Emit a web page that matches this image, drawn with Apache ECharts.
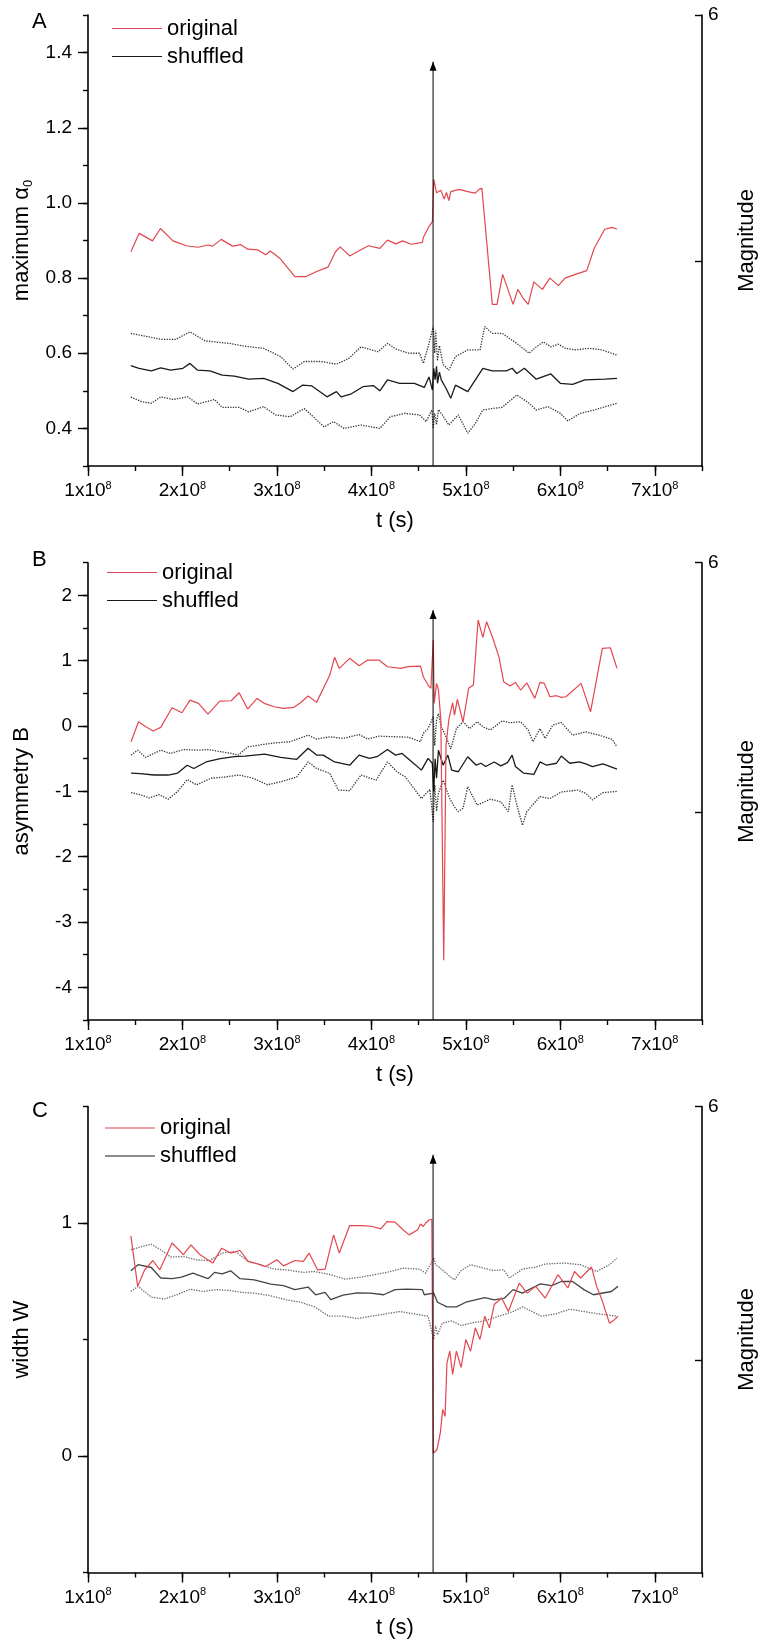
<!DOCTYPE html>
<html><head><meta charset="utf-8">
<script src="https://cdn.jsdelivr.net/npm/echarts@6/dist/echarts.min.js"></script>
<style>html,body{margin:0;padding:0;background:#fff}#c{width:766px;height:1645px}</style>
</head><body><div id="c"></div>
<script>
// ---------------- DATA (time in units of 1e8 s) ----------------
const xTickValues = [1, 2, 3, 4, 5, 6, 7];
const mainshockT = 4.653;
const mainshockMag = 5.43;

// Panel A: maximum alpha0
const A_original = [[1.454,0.870],[1.542,0.919],[1.683,0.899],[1.767,0.932],[1.90,0.899],[2.042,0.886],[2.165,0.882],[2.27,0.888],[2.32,0.885],[2.41,0.903],[2.53,0.885],[2.62,0.889],[2.69,0.877],[2.80,0.875],[2.88,0.862],[2.93,0.872],[3.03,0.853],[3.19,0.804],[3.31,0.804],[3.415,0.817],[3.54,0.829],[3.62,0.870],[3.67,0.883],[3.77,0.859],[3.865,0.872],[3.97,0.886],[4.09,0.879],[4.17,0.901],[4.26,0.891],[4.33,0.899],[4.42,0.890],[4.54,0.895],[4.55,0.908],[4.61,0.937],[4.646,0.950],[4.66,1.063],[4.69,1.027],[4.735,1.034],[4.77,1.010],[4.795,1.028],[4.82,1.006],[4.84,1.030],[4.93,1.036],[5.02,1.030],[5.10,1.026],[5.14,1.036],[5.17,1.039],[5.28,0.730],[5.33,0.730],[5.39,0.810],[5.50,0.730],[5.55,0.770],[5.61,0.745],[5.66,0.730],[5.72,0.790],[5.81,0.770],[5.89,0.800],[5.98,0.780],[6.05,0.800],[6.16,0.810],[6.28,0.820],[6.36,0.880],[6.47,0.930],[6.55,0.935],[6.60,0.930]];
const A_shuffled = [[1.453,0.567],[1.54,0.560],[1.67,0.553],[1.77,0.561],[1.876,0.555],[2.005,0.560],[2.08,0.573],[2.16,0.555],[2.29,0.553],[2.42,0.542],[2.55,0.539],[2.70,0.531],[2.86,0.533],[3.01,0.520],[3.17,0.498],[3.27,0.515],[3.37,0.513],[3.53,0.484],[3.63,0.498],[3.68,0.484],[3.78,0.491],[3.91,0.511],[4.02,0.514],[4.09,0.500],[4.17,0.529],[4.30,0.520],[4.455,0.520],[4.56,0.509],[4.61,0.537],[4.646,0.502],[4.66,0.560],[4.675,0.530],[4.69,0.565],[4.70,0.520],[4.72,0.550],[4.74,0.529],[4.79,0.507],[4.84,0.480],[4.89,0.515],[5.02,0.498],[5.18,0.560],[5.28,0.553],[5.43,0.553],[5.49,0.560],[5.54,0.546],[5.62,0.560],[5.745,0.531],[5.90,0.545],[6.00,0.520],[6.13,0.517],[6.26,0.529],[6.47,0.531],[6.60,0.533]];
const A_upper = [[1.453,0.653],[1.77,0.637],[1.93,0.637],[2.08,0.657],[2.24,0.633],[2.50,0.626],[2.65,0.619],[2.86,0.613],[3.04,0.591],[3.17,0.558],[3.29,0.578],[3.47,0.578],[3.63,0.571],[3.76,0.586],[3.89,0.617],[4.07,0.604],[4.17,0.626],[4.27,0.610],[4.40,0.600],[4.51,0.600],[4.55,0.573],[4.61,0.626],[4.655,0.671],[4.67,0.600],[4.68,0.660],[4.70,0.580],[4.72,0.620],[4.76,0.570],[4.82,0.555],[4.89,0.591],[5.02,0.609],[5.15,0.609],[5.20,0.671],[5.28,0.653],[5.385,0.653],[5.54,0.626],[5.67,0.600],[5.745,0.617],[5.82,0.630],[5.90,0.617],[5.98,0.624],[6.055,0.613],[6.16,0.609],[6.31,0.613],[6.44,0.609],[6.60,0.595]];
const A_lower = [[1.453,0.483],[1.57,0.471],[1.67,0.467],[1.77,0.484],[1.90,0.477],[2.055,0.484],[2.16,0.465],[2.34,0.477],[2.42,0.456],[2.60,0.456],[2.70,0.444],[2.86,0.458],[2.985,0.436],[3.14,0.431],[3.29,0.453],[3.50,0.404],[3.60,0.418],[3.71,0.400],[3.89,0.409],[4.09,0.400],[4.20,0.431],[4.35,0.440],[4.51,0.436],[4.58,0.418],[4.64,0.449],[4.655,0.400],[4.67,0.440],[4.69,0.410],[4.71,0.450],[4.74,0.440],[4.82,0.409],[4.92,0.436],[5.02,0.387],[5.10,0.413],[5.18,0.449],[5.28,0.453],[5.385,0.456],[5.54,0.489],[5.67,0.467],[5.745,0.449],[5.87,0.458],[6.00,0.440],[6.08,0.420],[6.21,0.440],[6.36,0.449],[6.60,0.467]];

// Panel B: asymmetry B
const B_original = [[1.456,-0.241],[1.535,0.065],[1.612,-0.011],[1.69,-0.077],[1.77,-0.021],[1.89,0.279],[1.994,0.203],[2.08,0.397],[2.17,0.347],[2.27,0.183],[2.395,0.382],[2.516,0.387],[2.60,0.509],[2.69,0.260],[2.79,0.423],[2.865,0.347],[2.97,0.295],[3.07,0.270],[3.18,0.286],[3.25,0.356],[3.33,0.459],[3.42,0.362],[3.56,0.780],[3.61,1.051],[3.66,0.883],[3.77,1.036],[3.87,0.923],[3.96,1.010],[4.08,1.010],[4.17,0.907],[4.31,0.883],[4.39,0.908],[4.52,0.918],[4.55,0.754],[4.60,0.627],[4.63,0.577],[4.655,1.316],[4.665,0.347],[4.69,0.653],[4.71,0.551],[4.735,0.100],[4.766,-3.586],[4.79,-0.300],[4.82,0.100],[4.86,0.356],[4.88,0.168],[4.91,0.408],[4.97,0.065],[5.03,0.577],[5.08,0.627],[5.13,1.623],[5.18,1.358],[5.22,1.597],[5.28,1.367],[5.35,1.061],[5.40,0.678],[5.47,0.611],[5.525,0.668],[5.58,0.551],[5.645,0.662],[5.73,0.423],[5.785,0.668],[5.83,0.653],[5.89,0.448],[5.96,0.464],[6.01,0.438],[6.06,0.448],[6.22,0.653],[6.32,0.218],[6.445,1.189],[6.53,1.198],[6.60,0.883]];
const B_shuffled = [[1.456,-0.72],[1.55,-0.73],[1.70,-0.75],[1.85,-0.75],[1.95,-0.72],[2.05,-0.60],[2.12,-0.65],[2.25,-0.55],[2.40,-0.50],[2.55,-0.47],[2.66,-0.46],[2.87,-0.43],[3.04,-0.48],[3.21,-0.51],[3.33,-0.34],[3.42,-0.445],[3.49,-0.445],[3.61,-0.55],[3.77,-0.60],[3.87,-0.445],[3.98,-0.495],[4.06,-0.47],[4.17,-0.36],[4.255,-0.445],[4.325,-0.42],[4.43,-0.55],[4.53,-0.675],[4.60,-0.495],[4.645,-0.57],[4.66,-1.00],[4.675,-0.50],[4.69,-0.80],[4.71,-0.37],[4.76,-0.60],[4.81,-0.445],[4.85,-0.675],[4.92,-0.70],[5.02,-0.47],[5.11,-0.60],[5.16,-0.57],[5.21,-0.62],[5.30,-0.55],[5.37,-0.61],[5.44,-0.56],[5.49,-0.445],[5.525,-0.62],[5.61,-0.72],[5.72,-0.74],[5.785,-0.55],[5.855,-0.60],[5.96,-0.57],[6.01,-0.46],[6.10,-0.57],[6.20,-0.55],[6.27,-0.58],[6.34,-0.62],[6.45,-0.58],[6.53,-0.62],[6.60,-0.66]];
const B_upper = [[1.456,-0.445],[1.525,-0.37],[1.61,-0.48],[1.77,-0.37],[1.87,-0.42],[2.01,-0.36],[2.17,-0.37],[2.27,-0.36],[2.52,-0.42],[2.59,-0.445],[2.69,-0.32],[2.865,-0.28],[2.97,-0.26],[3.14,-0.24],[3.33,-0.14],[3.42,-0.20],[3.56,-0.165],[3.70,-0.19],[3.87,-0.13],[3.96,-0.20],[4.08,-0.155],[4.255,-0.165],[4.39,-0.17],[4.52,-0.24],[4.55,-0.11],[4.60,-0.04],[4.655,0.14],[4.67,-0.30],[4.69,0.10],[4.71,0.19],[4.74,-0.01],[4.79,-0.165],[4.84,-0.35],[4.90,-0.04],[4.97,0.065],[5.04,-0.04],[5.12,0.065],[5.19,-0.02],[5.26,-0.06],[5.385,0.08],[5.47,0.05],[5.58,0.065],[5.66,-0.06],[5.71,-0.24],[5.785,-0.04],[5.84,-0.19],[5.92,0.015],[6.01,0.055],[6.13,-0.14],[6.27,-0.09],[6.41,-0.14],[6.55,-0.205],[6.60,-0.32]];
const B_lower = [[1.456,-1.02],[1.55,-1.05],[1.65,-1.10],[1.75,-1.05],[1.85,-1.12],[1.95,-1.00],[2.05,-0.82],[2.15,-0.90],[2.30,-0.80],[2.45,-0.78],[2.60,-0.75],[2.75,-0.80],[2.90,-0.90],[3.05,-0.85],[3.21,-0.78],[3.33,-0.55],[3.42,-0.65],[3.56,-0.725],[3.65,-0.98],[3.77,-0.99],[3.89,-0.75],[4.05,-0.83],[4.17,-0.55],[4.27,-0.70],[4.36,-0.78],[4.53,-1.11],[4.62,-0.97],[4.655,-1.47],[4.67,-0.90],[4.69,-1.30],[4.71,-1.03],[4.76,-0.83],[4.83,-1.11],[4.88,-1.24],[4.92,-1.31],[4.97,-1.26],[5.02,-0.93],[5.12,-1.21],[5.26,-1.12],[5.37,-1.16],[5.45,-1.31],[5.49,-0.90],[5.54,-1.21],[5.60,-1.52],[5.645,-1.31],[5.785,-1.08],[5.89,-1.11],[6.01,-1.01],[6.185,-0.98],[6.27,-1.03],[6.34,-1.13],[6.45,-1.02],[6.60,-1.00]];

// Panel C: width W
const C_original = [[1.454,0.945],[1.526,0.728],[1.60,0.799],[1.687,0.839],[1.76,0.799],[1.89,0.914],[2.01,0.864],[2.09,0.906],[2.18,0.866],[2.32,0.828],[2.415,0.892],[2.51,0.871],[2.61,0.882],[2.695,0.835],[2.80,0.824],[2.88,0.813],[3.00,0.842],[3.07,0.816],[3.19,0.839],[3.28,0.835],[3.34,0.871],[3.43,0.799],[3.51,0.802],[3.60,0.949],[3.66,0.871],[3.77,0.989],[3.91,0.989],[4.01,0.985],[4.10,0.975],[4.165,1.006],[4.25,1.004],[4.335,0.971],[4.40,0.949],[4.49,0.971],[4.52,0.996],[4.55,0.985],[4.575,1.000],[4.61,1.013],[4.64,1.016],[4.655,0.012],[4.695,0.028],[4.73,0.100],[4.755,0.200],[4.78,0.170],[4.80,0.400],[4.83,0.450],[4.86,0.350],[4.90,0.450],[4.95,0.380],[5.00,0.500],[5.05,0.450],[5.10,0.550],[5.15,0.500],[5.20,0.600],[5.25,0.550],[5.30,0.650],[5.38,0.678],[5.45,0.620],[5.565,0.742],[5.65,0.699],[5.74,0.728],[5.84,0.678],[5.975,0.778],[6.08,0.721],[6.15,0.792],[6.215,0.764],[6.33,0.811],[6.385,0.728],[6.44,0.671],[6.52,0.570],[6.56,0.580],[6.61,0.600]];
const C_shuffled = [[1.454,0.795],[1.53,0.821],[1.67,0.809],[1.77,0.764],[1.89,0.761],[1.99,0.768],[2.11,0.785],[2.27,0.761],[2.34,0.788],[2.42,0.782],[2.51,0.795],[2.61,0.761],[2.76,0.756],[2.935,0.738],[3.07,0.731],[3.19,0.714],[3.33,0.725],[3.41,0.692],[3.51,0.702],[3.57,0.671],[3.70,0.690],[3.85,0.700],[3.99,0.699],[4.13,0.692],[4.25,0.714],[4.37,0.716],[4.54,0.714],[4.56,0.692],[4.66,0.699],[4.70,0.660],[4.80,0.640],[4.90,0.640],[5.00,0.660],[5.10,0.670],[5.20,0.680],[5.30,0.670],[5.41,0.678],[5.50,0.714],[5.60,0.699],[5.70,0.721],[5.79,0.739],[5.91,0.731],[6.01,0.749],[6.13,0.749],[6.25,0.714],[6.35,0.692],[6.54,0.706],[6.61,0.728]];
const C_upper = [[1.454,0.885],[1.57,0.899],[1.67,0.909],[1.77,0.885],[1.875,0.854],[2.01,0.856],[2.15,0.842],[2.285,0.838],[2.42,0.871],[2.56,0.878],[2.695,0.835],[2.83,0.821],[2.97,0.802],[3.10,0.799],[3.28,0.788],[3.40,0.792],[3.55,0.780],[3.72,0.759],[3.86,0.766],[4.03,0.778],[4.165,0.788],[4.335,0.806],[4.51,0.802],[4.575,0.785],[4.66,0.850],[4.68,0.821],[4.73,0.806],[4.83,0.771],[4.88,0.756],[4.95,0.796],[5.05,0.821],[5.19,0.806],[5.29,0.796],[5.40,0.799],[5.46,0.764],[5.60,0.802],[5.74,0.811],[5.84,0.824],[6.04,0.828],[6.215,0.821],[6.385,0.792],[6.52,0.821],[6.60,0.849]];
const C_lower = [[1.454,0.706],[1.53,0.728],[1.67,0.682],[1.81,0.674],[1.94,0.692],[2.08,0.716],[2.22,0.706],[2.35,0.714],[2.49,0.711],[2.63,0.702],[2.76,0.699],[2.93,0.688],[3.10,0.670],[3.25,0.660],[3.40,0.640],[3.55,0.600],[3.70,0.600],[3.85,0.590],[4.00,0.600],[4.15,0.610],[4.30,0.620],[4.45,0.610],[4.60,0.600],[4.66,0.500],[4.68,0.560],[4.70,0.520],[4.75,0.570],[4.85,0.580],[4.95,0.560],[5.05,0.570],[5.20,0.580],[5.35,0.600],[5.50,0.620],[5.60,0.640],[5.70,0.620],[5.80,0.600],[5.95,0.610],[6.10,0.630],[6.25,0.620],[6.40,0.610],[6.60,0.600]];

// ---------------- LAYOUT ----------------
const FONT = '"Liberation Sans", Arial, sans-serif';
const LEG_ICON = 'path://M0,0H50V1H0Z';
const panels = [
  {letter:'A', top:15, height:451, right:62.5, ymin:0.3, ymax:1.5, ystep:0.1, ymajor:[0.4,0.6,0.8,1.0,1.2,1.4],
   fmt:v=>{const r=Math.round(v*10); return r%2===0 ? (r/10).toFixed(1) : '';},
   yname:'{a|maximum α}{s|0}', legendLeft:107, legendTop:12, letterTop:11,
   data:[A_lower, A_upper, A_shuffled, A_original], solid:'#1a1a1a', dot:'#333'},
  {letter:'B', top:562.7, height:457.3, right:55, ymin:-4.5, ymax:2.5, ystep:0.5, ymajor:[-4,-3,-2,-1,0,1,2],
   fmt:v=>{const r=Math.round(v*2); return r%2===0 ? String(r/2) : '';},
   yname:'{a|asymmetry B}', legendLeft:102, legendTop:556, letterTop:549,
   data:[B_lower, B_upper, B_shuffled, B_original], solid:'#1a1a1a', dot:'#333'},
  {letter:'C', top:1106.5, height:466, right:44, ymin:-0.5, ymax:1.5, ystep:0.5, ymajor:[0,1],
   fmt:v=>{const r=Math.round(v*2); return r%2===0 ? String(r/2) : '';},
   yname:'{a|width W}', legendLeft:100, legendTop:1111.5, letterTop:1100,
   data:[C_lower, C_upper, C_shuffled, C_original], solid:'#444', dot:'#666'}
];

const axisLineStyle = {color:'#000', width:1.6};
const grid = [], xAxis = [], yAxis = [], series = [], legend = [], graphic = [];

panels.forEach((p, i) => {
  grid.push({left:88, right:p.right, top:p.top, height:p.height, containLabel:false});
  // main x axis (minor ticks every 0.5)
  xAxis.push({gridIndex:i, type:'value', position:'bottom', min:1, max:7.5, interval:0.5,
    axisLine:{show:true, onZero:false, lineStyle:axisLineStyle},
    axisTick:{show:true, length:5, lineStyle:{color:'#000', width:1.4}},
    splitLine:{show:false},
    axisLabel:{margin:14, color:'#000', fontFamily:FONT, fontSize:19,
      formatter:v=>{const r=Math.round(v*2); return r%2===0 ? '{b|'+(r/2)+'x10}{s|8}' : '';},
      rich:{b:{fontSize:19, fontFamily:FONT, color:'#000', lineHeight:22}, s:{fontSize:11, fontFamily:FONT, color:'#000', verticalAlign:'top', lineHeight:22}}},
    name:'t (s)', nameLocation:'middle', nameGap:44,
    nameTextStyle:{fontSize:22, fontFamily:FONT, color:'#000'}});
  // major x ticks
  xAxis.push({gridIndex:i, type:'value', position:'bottom', min:1, max:7.5, interval:1,
    axisLine:{show:false, onZero:false}, axisLabel:{show:false}, splitLine:{show:false},
    axisTick:{show:true, length:10, customValues:xTickValues, lineStyle:{color:'#000', width:1.4}}});
  // main left y axis
  yAxis.push({gridIndex:i, type:'value', position:'left', min:p.ymin, max:p.ymax, interval:p.ystep,
    axisLine:{show:true, onZero:false, lineStyle:axisLineStyle},
    axisTick:{show:true, length:5, lineStyle:{color:'#000', width:1.4}},
    splitLine:{show:false},
    axisLabel:{margin:16, color:'#000', fontFamily:FONT, fontSize:19, formatter:p.fmt, showMinLabel:true, showMaxLabel:true},
    name:p.yname, nameLocation:'middle', nameGap:53, nameRotate:90,
    nameTextStyle:{fontSize:22, fontFamily:FONT, color:'#000',
      rich:{a:{fontSize:22, fontFamily:FONT, color:'#000', lineHeight:26}, s:{fontSize:13, fontFamily:FONT, color:'#000', verticalAlign:'bottom', lineHeight:26}}}});
  // major left y ticks
  yAxis.push({gridIndex:i, type:'value', position:'left', min:p.ymin, max:p.ymax,
    axisLine:{show:false, onZero:false}, axisLabel:{show:false}, splitLine:{show:false},
    axisTick:{show:true, length:10, customValues:p.ymajor, lineStyle:{color:'#000', width:1.4}}});
  // magnitude axis (right)
  yAxis.push({gridIndex:i, type:'value', position:'right', min:0.5, max:6,
    axisLine:{show:true, onZero:false, lineStyle:axisLineStyle},
    axisTick:{show:true, inside:true, length:7, customValues:[3,6], lineStyle:{color:'#000', width:1.4}},
    splitLine:{show:false},
    axisLabel:{margin:6, color:'#000', fontFamily:FONT, fontSize:19, customValues:[6], formatter:v=>(Math.abs(v-6)<1e-6?'6':'')},
    name:'Magnitude', nameLocation:'middle', nameGap:34, nameRotate:90,
    nameTextStyle:{fontSize:22, fontFamily:FONT, color:'#000'}});

  const xi = 2*i, yi = 3*i;
  const [lo, up, sh, orig] = p.data;
  const dotStyle = {color:p.dot, width:1.3, type:'dotted'};
  series.push({name:'lower', type:'line', xAxisIndex:xi, yAxisIndex:yi, data:lo, symbol:'none', lineStyle:dotStyle, silent:true, z:2});
  series.push({name:'upper', type:'line', xAxisIndex:xi, yAxisIndex:yi, data:up, symbol:'none', lineStyle:dotStyle, silent:true, z:2});
  series.push({name:'shuffled', type:'line', xAxisIndex:xi, yAxisIndex:yi, data:sh, symbol:'none', itemStyle:{color:p.solid}, lineStyle:{color:p.solid, width:1.3}, z:3});
  series.push({name:'original', type:'line', xAxisIndex:xi, yAxisIndex:yi, data:orig, symbol:'none', itemStyle:{color:'#e3464f'}, lineStyle:{color:'#e3464f', width:1.2}, z:4});
  series.push({name:'mainshock', type:'line', xAxisIndex:xi, yAxisIndex:yi+2,
    data:[{value:[mainshockT, 0.5], symbol:'none'}, {value:[mainshockT, mainshockMag]}],
    symbol:'triangle', symbolSize:[7,9], symbolOffset:[0,'50%'], showSymbol:true,
    itemStyle:{color:'#000'}, lineStyle:{color:'#000', width:1}, z:5, silent:true});

  legend.push({data:[{name:'original', icon:LEG_ICON}, {name:'shuffled', icon:LEG_ICON}],
    orient:'vertical', left:p.legendLeft, top:p.legendTop,
    itemWidth:50, itemHeight:1.6, itemGap:5, selectedMode:false,
    textStyle:{fontSize:22, fontFamily:FONT, color:'#000', lineHeight:23}});
  graphic.push({type:'text', left:32, top:p.letterTop, style:{text:p.letter, font:'22px ' + FONT, fill:'#000'}});
});

const chart = echarts.init(document.getElementById('c'));
chart.setOption({animation:false, backgroundColor:'#fff', grid, xAxis, yAxis, series, legend, graphic});
</script>
</body></html>
